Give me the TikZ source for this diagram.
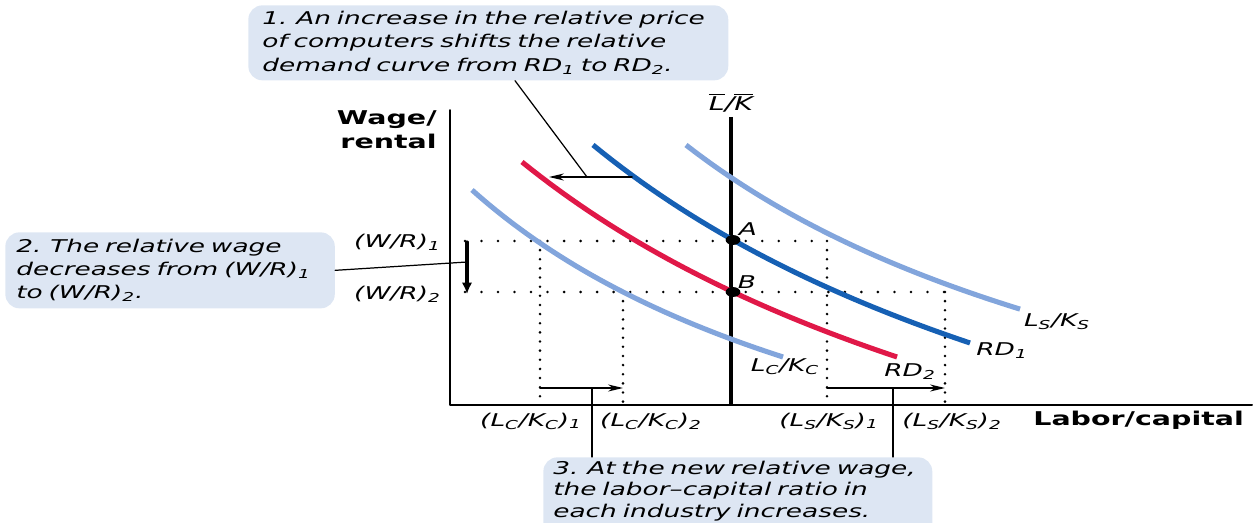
\documentclass[tikz,border=0pt]{standalone}
\usepackage{fontspec}
\setmainfont{DejaVu Sans}[FakeStretch=1.5]
\usetikzlibrary{arrows.meta}
\definecolor{sectorblue}{RGB}{130,165,220}
\definecolor{rdoneblue}{RGB}{22,96,180}
\definecolor{rdtwored}{RGB}{224,24,72}
\definecolor{notefill}{RGB}{221,230,243}
\begin{document}
\begin{tikzpicture}[x=0.02cm,y=-0.02cm,line cap=round,line join=round,
  every node/.style={font=\fontsize{10}{13}\selectfont\itshape,inner sep=0pt},
  note/.style={fill=notefill,rounded corners=8pt,anchor=north west,align=left,
    inner xsep=0.28cm},
  axislab/.style={font=\fontsize{10.8}{13.6}\selectfont\bfseries},
  curve/.style={line width=2.9pt,line cap=butt},
  hdots/.style={line width=1.6pt,dash pattern=on 0pt off 9.4pt},
  vdots/.style={line width=1.6pt,dash pattern=on 0pt off 5.2pt},
  leader/.style={line width=0.7pt},
  shiftarrow/.style={line width=0.9pt,-{Stealth[length=8.5pt,width=4pt]}}]
  \clip (0,0) rectangle (1256,523);
  % callouts
  \node[note,text width=9.04cm,minimum height=1.5cm,
    font=\fontsize{10}{13.6}\selectfont\itshape] (note1) at (248,5)
    {1. An increase in the relative price\\ of computers shifts the relative\\
     demand curve from RD\textsubscript{1} to RD\textsubscript{2}.};
  \node[note,text width=6.15cm,minimum height=1.52cm,inner xsep=0.22cm] (note2) at (5,232)
    {2. The relative wage\\ decreases from (W/R)\textsubscript{1}\\ to (W/R)\textsubscript{2}.};
  \node[note,text width=7.38cm,inner xsep=0.2cm,inner ysep=0.07cm,
    font=\fontsize{10}{12.4}\selectfont\itshape] (note3) at (543,457)
    {3. At the new relative wage,\\ the labor--capital ratio in\\ each industry increases.\\ \mbox{}};
  % axes and endowment line
  \coordinate (origin) at (450,405);
  \draw[line width=1.1pt] (450,110) -- (origin) -- (1252,405);
  \node[axislab,align=right,anchor=east] (ylab) at (437,130) {Wage/\\rental};
  \node[axislab,anchor=west] (xlab) at (1033,420) {Labor/capital};
  \node[font=\fontsize{10.8}{13}\selectfont\itshape] (lkbar) at (731,103)
    {$\overline{\hbox{\itshape L}}$/$\overline{\hbox{\itshape K}}$};
  \draw[line width=2.4pt,line cap=butt] (731,117) -- (731,405);
  % wage levels and factor ratios
  \coordinate (A) at (733,240);
  \coordinate (B) at (733,292);
  \draw[hdots] (465,241) -- (827,241);
  \draw[hdots] (465,292) -- (945,292);
  \draw[vdots] (540,241) -- (540,405);
  \draw[vdots] (623,292) -- (623,405);
  \draw[vdots] (827,241) -- (827,405);
  \draw[vdots] (945,292) -- (945,405);
  \node[anchor=east] (wr1) at (441,242) {(W/R)\textsubscript{1}};
  \node[anchor=east] (wr2) at (441,294) {(W/R)\textsubscript{2}};
  \node (lc1) at (531,421) {(L\textsubscript{C}/K\textsubscript{C})\textsubscript{1}};
  \node (lc2) at (651,421) {(L\textsubscript{C}/K\textsubscript{C})\textsubscript{2}};
  \node (ls1) at (829,421) {(L\textsubscript{S}/K\textsubscript{S})\textsubscript{1}};
  \node (ls2) at (952,421) {(L\textsubscript{S}/K\textsubscript{S})\textsubscript{2}};
  % curves: y = c - k/(x+d)
  \draw[curve,sectorblue] plot[domain=472:783,samples=40]
    (\x,{609.0-1966.41/(\x/100-0.027)});
  \draw[curve,sectorblue] plot[domain=686:1020,samples=40]
    (\x,{590.1-2545.38/(\x/100-1.141)});
  \draw[curve,rdtwored] plot[domain=522:897,samples=40]
    (\x,{708.6-3696.22/(\x/100+1.542)});
  \draw[curve,rdoneblue] plot[domain=593:970,samples=40]
    (\x,{695.7-3698.69/(\x/100+0.786)});
  \node (lblLC) at (785,367) {L\textsubscript{C}/K\textsubscript{C}};
  \node (lblRD2) at (910,372) {RD\textsubscript{2}};
  \node (lblRD1) at (1002,351) {RD\textsubscript{1}};
  \node (lblLS) at (1057,322) {L\textsubscript{S}/K\textsubscript{S}};
  \fill (A) ellipse [x radius=4.2pt,y radius=2.8pt];
  \fill (B) ellipse [x radius=4.2pt,y radius=2.8pt];
  \node (lblA) at (748,229) {A};
  \node (lblB) at (747,282) {B};
  % shift arrows and leaders
  \coordinate (onrdone) at (632,177);
  \coordinate (onrdtwo) at (549,177);
  \coordinate (shiftmid) at (587,177);
  \draw[shiftarrow] (onrdone) -- (onrdtwo);
  \draw[leader] (note1.south -| 515,0) -- (shiftmid);
  \coordinate (wagetop) at (467,242);
  \coordinate (wagebot) at (467,294);
  \draw[line width=1.8pt,-{Latex[length=6.5pt,width=6pt]}] (wagetop) -- (wagebot);
  \draw[leader] (note2.east) -- (467,262);
  \coordinate (lcfrom) at (540,388);
  \coordinate (lcto) at (623,388);
  \coordinate (lsfrom) at (827,388);
  \coordinate (lsto) at (945,388);
  \draw[shiftarrow] (lcfrom) -- (lcto);
  \draw[shiftarrow] (lsfrom) -- (lsto);
  \draw[leader] (592,388) -- (note3.north -| 592,0);
  \draw[leader] (893,388) -- (note3.north -| 893,0);
\end{tikzpicture}
\end{document}
